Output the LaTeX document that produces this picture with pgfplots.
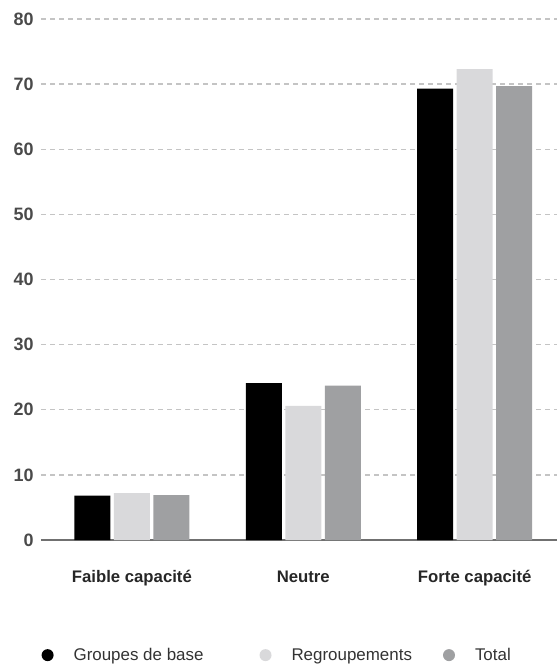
\documentclass[border=0pt]{standalone}
\usepackage{fontspec}
\setmainfont{Liberation Sans}
\usepackage{pgfplots}
\pgfplotsset{compat=1.18}
\definecolor{cblack}{HTML}{000000}
\definecolor{clight}{HTML}{D9D9DB}
\definecolor{cgray}{HTML}{9FA0A2}
\definecolor{cgrid}{HTML}{C4C4C4}
\definecolor{cbase}{HTML}{707070}
\definecolor{ctext}{HTML}{4A4A4A}
\begin{document}
\begin{tikzpicture}
\useasboundingbox (0,0) rectangle (557bp,664bp);
\begin{axis}[
  at={(41bp,124bp)}, anchor=south west,
  scale only axis, width=516bp, height=521bp,
  xmin=-0.53, xmax=2.48, ymin=0, ymax=80,
  axis x line*=bottom, axis y line*=left,
  y axis line style={draw=none},
  x axis line style={cbase, line width=1.5bp, -},
  ytick={0,10,...,80},
  xtick={0,1,2},
  xticklabels={Faible capacité, Neutre, Forte capacité},
  major tick length=0pt,
  ymajorgrids, grid style={cgrid, line width=1.3bp, dash pattern=on 5bp off 4bp},
  yticklabel style={font=\fontsize{18}{20}\selectfont\bfseries, text=ctext, xshift=-4bp},
  xticklabel style={font=\fontsize{16.8}{19}\selectfont\bfseries, text=black!85, yshift=-27bp},
  /pgf/number format/assume math mode=true,
  ybar, bar width=36bp,
  legend style={at={(-0.005,-0.221)}, anchor=west, draw=none, fill=none,
    font=\fontsize{17}{20}\selectfont, text=black!80,
    legend columns=3,
    /tikz/column 2/.style={column sep=54bp},
    /tikz/column 4/.style={column sep=29bp}},
  legend image code/.code={\fill[#1] (6bp,0) circle (6bp); \path (0,0) (30bp,0);},
  clip=false,
]
\addplot[fill=cblack, draw=none, bar shift=-39.5bp] coordinates {(0,6.8) (1,24.1) (2,69.3)};
\addplot[fill=clight, draw=none, bar shift=0bp] coordinates {(0,7.2) (1,20.6) (2,72.3)};
\addplot[fill=cgray, draw=none, bar shift=39.5bp] coordinates {(0,6.9) (1,23.7) (2,69.7)};
\legend{Groupes de base, Regroupements, Total}
\end{axis}
\end{tikzpicture}
\end{document}
